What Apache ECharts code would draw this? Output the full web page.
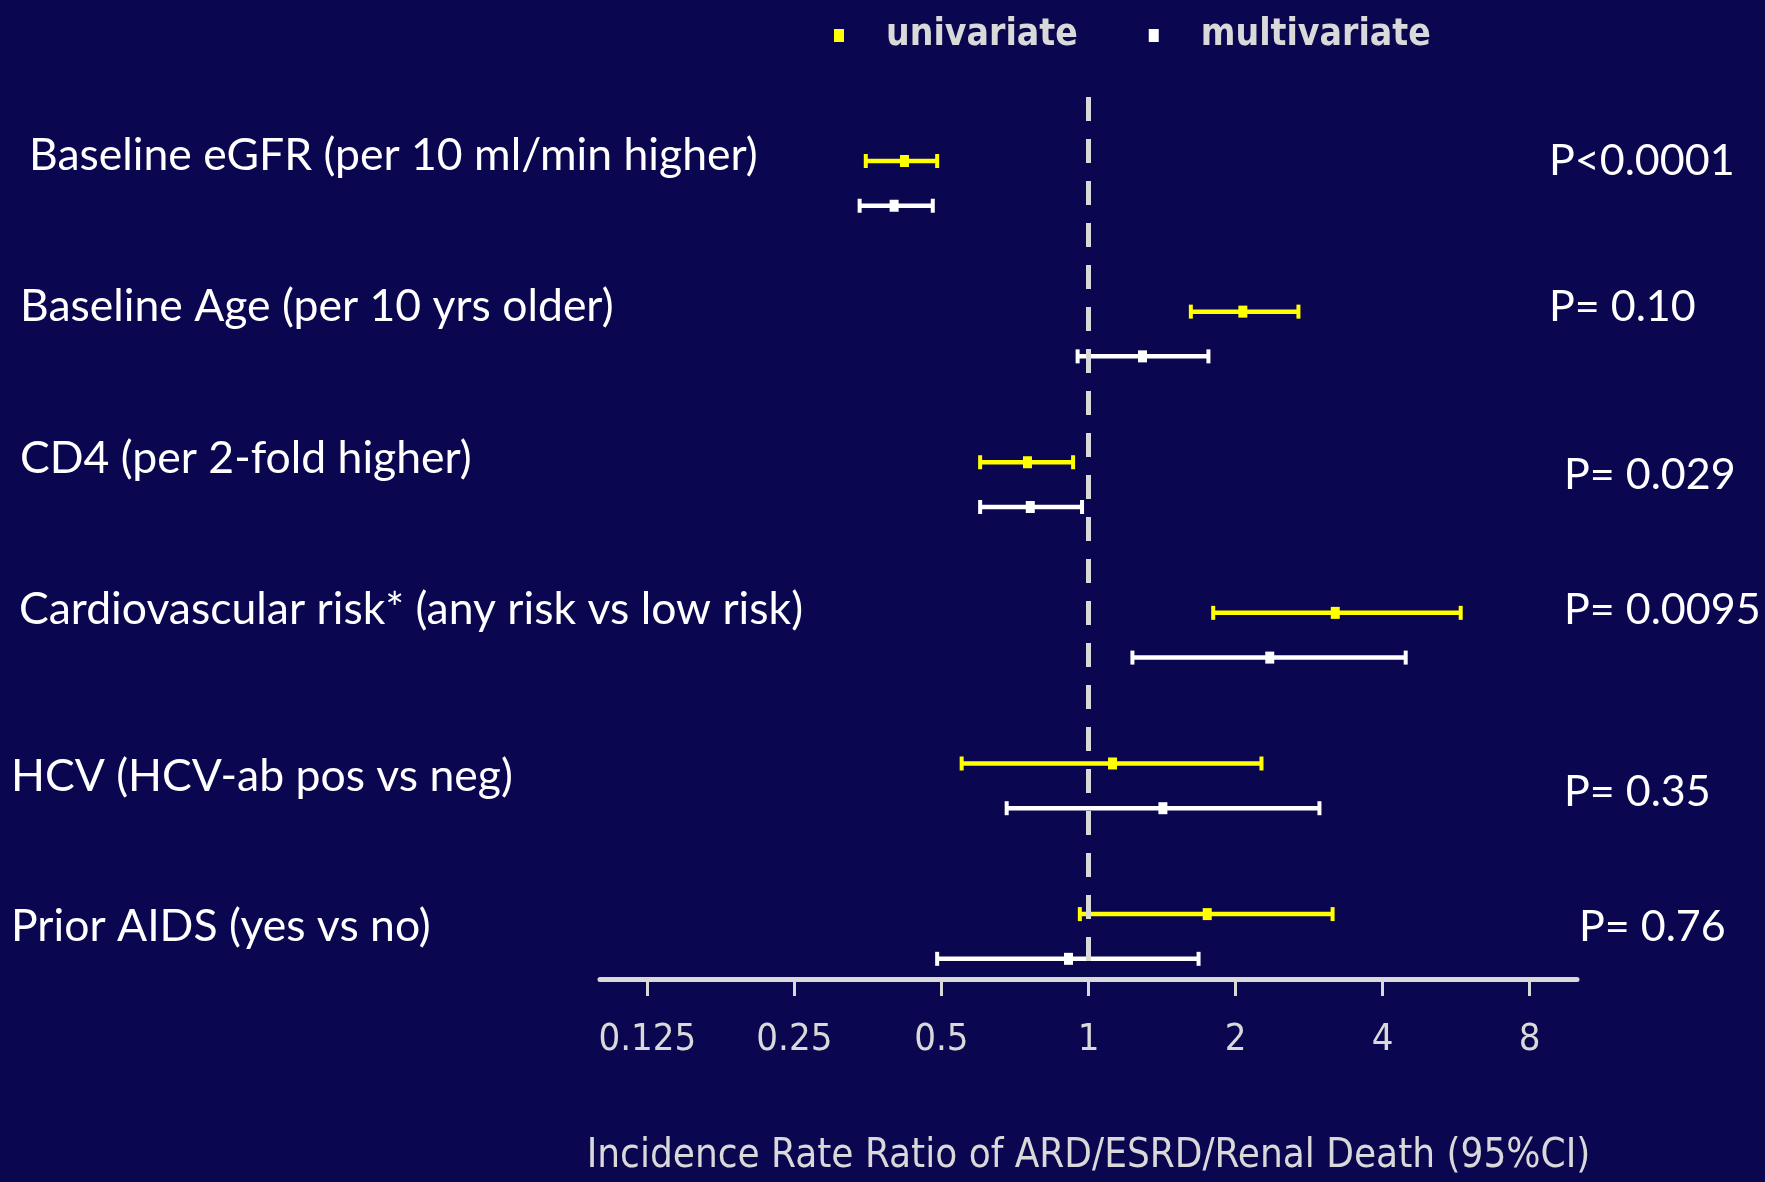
<!DOCTYPE html>
<html>
<head>
<meta charset="utf-8">
<script src="https://cdn.jsdelivr.net/npm/echarts@6/dist/echarts.min.js"></script>
<style>
html,body{margin:0;padding:0;background:#0b0650;}
#chart{width:1765px;height:1182px;}
</style>
</head>
<body>
<div id="chart"></div>
<script>
// ---- data ----
const categories = [
  'Baseline eGFR (per 10 ml/min higher)',
  'Baseline Age (per 10 yrs older)',
  'CD4 (per 2-fold higher)',
  'Cardiovascular risk* (any risk vs low risk)',
  'HCV (HCV-ab pos vs neg)',
  'Prior AIDS (yes vs no)'
];
const uniEst  = [0.42, 2.07, 0.75, 3.20, 1.12, 1.75];
const uniLow  = [0.35, 1.62, 0.60, 1.80, 0.55, 0.96];
const uniHigh = [0.49, 2.69, 0.93, 5.78, 2.26, 3.16];
const multiEst  = [0.40, 1.29, 0.76, 2.35, 1.42, 0.91];
const multiLow  = [0.34, 0.95, 0.60, 1.23, 0.68, 0.49];
const multiHigh = [0.48, 1.76, 0.97, 4.46, 2.97, 1.68];
const pValues = ['P<0.0001', 'P= 0.10', 'P= 0.029', 'P= 0.0095', 'P= 0.35', 'P= 0.76'];
const tickValues = [0.125, 0.25, 0.5, 1, 2, 4, 8];
const axisMin = 0.1, axisMax = 10, refValue = 1;
const seriesNames = ['univariate', 'multivariate'];
const axisTitle = 'Incidence Rate Ratio of ARD/ESRD/Renal Death (95%CI)';

// ---- layout / style ----
const BG = '#0b0650';
const YELLOW = '#ffff00';
const WHITE = '#ffffff';
const GREY = '#d9d9d9';
const NARROW = "'Liberation Sans Narrow', 'DejaVu Sans Condensed', sans-serif";
const LABELFONT = "Lato, 'Open Sans', sans-serif";
const ROW = 151.3;                 // pixel spacing between rows (for y unit)
const UNI_OFF = 0.425, MULTI_OFF = 0.722;
const Y_MAX = 886 / ROW;
const DASH_END = (967 - 97) / ROW;

const log2 = v => Math.log(v) / Math.LN2;

function buildData(low, est, high, off) {
  return est.map((e, i) => [log2(low[i]), log2(e), log2(high[i]), i + off]);
}

function makeRender(color) {
  return function (params, api) {
    const y = api.value(3);
    const lo = api.coord([api.value(0), y]);
    const es = api.coord([api.value(1), y]);
    const hi = api.coord([api.value(2), y]);
    const yy = es[1];
    return {
      type: 'group',
      children: [
        { type: 'line', shape: { x1: lo[0], y1: yy, x2: hi[0], y2: yy }, style: { stroke: color, lineWidth: 4.5 } },
        { type: 'rect', shape: { x: lo[0] - 2, y: yy - 7, width: 4, height: 14 }, style: { fill: color } },
        { type: 'rect', shape: { x: hi[0] - 2, y: yy - 7, width: 4, height: 14 }, style: { fill: color } },
        { type: 'rect', shape: { x: es[0] - 4.5, y: yy - 6, width: 9, height: 12 }, style: { fill: color } }
      ]
    };
  };
}

// label positions (pixels) for row labels and p-values: [left x, vertical centre y]
const labelPos = [[29, 156], [20, 307], [20, 459], [19, 610], [11, 777], [11, 927]];
const pPos = [[1549, 161], [1549, 307], [1564, 475], [1564, 610], [1564, 792], [1579, 927]];

const graphics = [];
categories.forEach((c, i) => {
  graphics.push({ type: 'text', x: labelPos[i][0], y: labelPos[i][1],
    style: { text: c, fill: WHITE, font: '44.5px ' + LABELFONT, verticalAlign: 'middle', align: 'left' } });
});
pValues.forEach((p, i) => {
  graphics.push({ type: 'text', x: pPos[i][0], y: pPos[i][1],
    style: { text: p, fill: WHITE, font: '43px ' + LABELFONT, verticalAlign: 'middle', align: 'left' } });
});

const chart = echarts.init(document.getElementById('chart'), null, { renderer: 'canvas' });
chart.setOption({
  backgroundColor: BG,
  animation: false,
  grid: { left: 600, right: 188, top: 97, bottom: 199 },
  legend: {
    left: 829, top: 12,
    itemWidth: 10, itemHeight: 13, itemGap: 71,
    icon: 'rect',
    data: seriesNames,
    textStyle: { color: GREY, fontFamily: NARROW, fontWeight: 'bold', fontSize: 37, padding: [0, 0, 0, 37] }
  },
  xAxis: {
    type: 'value',
    min: log2(axisMin), max: log2(axisMax),
    splitLine: { show: false },
    axisLine: { onZero: false, lineStyle: { color: GREY, width: 5 } },
    axisTick: { show: true, inside: false, length: 17, customValues: tickValues.map(log2), lineStyle: { color: GREY, width: 3 } },
    axisLabel: {
      customValues: tickValues.map(log2),
      formatter: v => String(+Math.pow(2, v).toFixed(3)),
      color: GREY, fontFamily: NARROW, fontSize: 38, margin: 42
    },
    name: axisTitle,
    nameLocation: 'middle',
    nameGap: 158,
    nameTextStyle: { color: GREY, fontFamily: NARROW, fontSize: 40 }
  },
  yAxis: {
    type: 'value', inverse: true, min: 0, max: Y_MAX,
    show: false
  },
  graphic: graphics,
  series: [
    {
      type: 'line', name: 'ref', z: 5, silent: true, symbol: 'none',
      data: [[log2(refValue), 0], [log2(refValue), DASH_END]],
      lineStyle: { color: GREY, width: 5, type: [24, 18] }
    },
    {
      type: 'custom', name: seriesNames[0], z: 3,
      itemStyle: { color: YELLOW },
      renderItem: makeRender(YELLOW),
      encode: { x: [0, 1, 2], y: 3 },
      data: buildData(uniLow, uniEst, uniHigh, UNI_OFF)
    },
    {
      type: 'custom', name: seriesNames[1], z: 3,
      itemStyle: { color: WHITE },
      renderItem: makeRender(WHITE),
      encode: { x: [0, 1, 2], y: 3 },
      data: buildData(multiLow, multiEst, multiHigh, MULTI_OFF)
    }
  ]
});
</script>
</body>
</html>
